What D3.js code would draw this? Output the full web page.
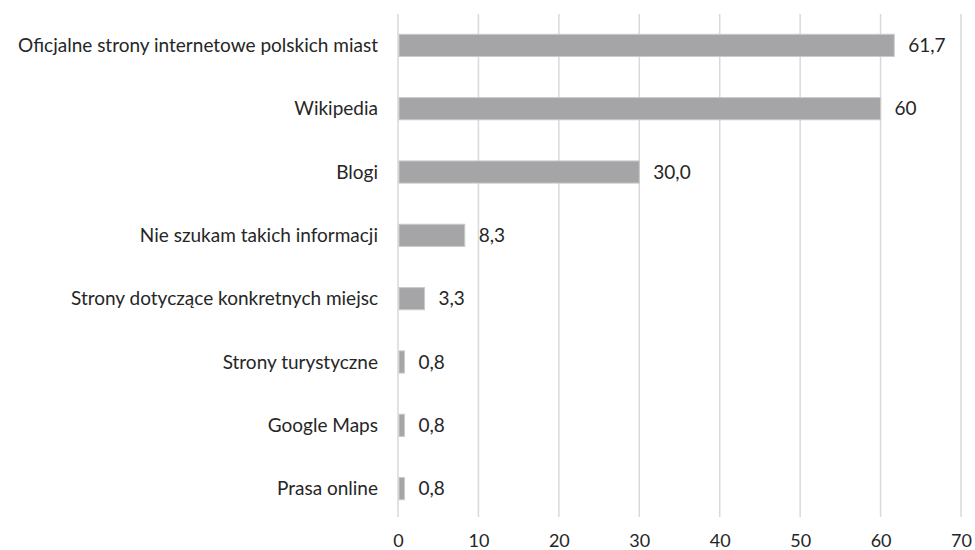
<!DOCTYPE html>
<html>
<head>
<meta charset="utf-8">
<script src="https://cdn.jsdelivr.net/npm/d3@7"></script>
<style>
  body { margin: 0; background: #fff; }
  text { font-family: Lato, "Open Sans", sans-serif; fill: #262626; }
</style>
</head>
<body>
<svg id="chart" width="975" height="550"></svg>
<script>
const categories = [
  'Oficjalne strony internetowe polskich miast',
  'Wikipedia',
  'Blogi',
  'Nie szukam takich informacji',
  'Strony dotyczące konkretnych miejsc',
  'Strony turystyczne',
  'Google Maps',
  'Prasa online'
]
const values = [61.7, 60, 30.0, 8.3, 3.3, 0.8, 0.8, 0.8]
const valueLabels = ['61,7', '60', '30,0', '8,3', '3,3', '0,8', '0,8', '0,8']
const ticks = [0, 10, 20, 30, 40, 50, 60, 70]

const svg = d3.select('#chart')

const x = d3.scaleLinear().domain([0, 70]).range([398, 961])
const y = d3.scaleBand().domain(categories).range([13.7, 520.3]).paddingInner(0.65).paddingOuter(0.325)

// grid
svg.append('g')
  .selectAll('line')
  .data(ticks)
  .join('line')
  .attr('x1', d => x(d))
  .attr('x2', d => x(d))
  .attr('y1', 14)
  .attr('y2', 517)
  .attr('stroke', '#d9d9d9')
  .attr('stroke-width', 1.5)

// bars
svg.append('g')
  .selectAll('rect')
  .data(values)
  .join('rect')
  .attr('x', x(0) + 1)
  .attr('y', (d, i) => y(categories[i]))
  .attr('width', d => x(d) - x(0) - 1)
  .attr('height', y.bandwidth())
  .attr('fill', '#a5a5a8')
  .attr('stroke', '#c9c9cb')
  .attr('stroke-width', 1)

// value labels
svg.append('g')
  .selectAll('text')
  .data(values)
  .join('text')
  .attr('x', d => x(d) + 14)
  .attr('y', (d, i) => y(categories[i]) + y.bandwidth() / 2)
  .attr('dy', '0.35em')
  .attr('font-size', 19)
  .text((d, i) => valueLabels[i])

// category labels
svg.append('g')
  .selectAll('text')
  .data(categories)
  .join('text')
  .attr('x', 378)
  .attr('y', d => y(d) + y.bandwidth() / 2)
  .attr('dy', '0.35em')
  .attr('text-anchor', 'end')
  .attr('font-size', 19)
  .text(d => d)

// x axis labels
const axis = svg.append('g')
  .attr('transform', 'translate(0,534)')
  .call(d3.axisBottom(x).tickValues(ticks).tickSize(0).tickPadding(0))
axis.select('.domain').remove()
axis.selectAll('text')
  .attr('font-size', 18)
  .attr('font-family', 'Lato, "Open Sans", sans-serif')
  .attr('fill', '#262626')
  .attr('dy', '0.71em')
</script>
</body>
</html>
